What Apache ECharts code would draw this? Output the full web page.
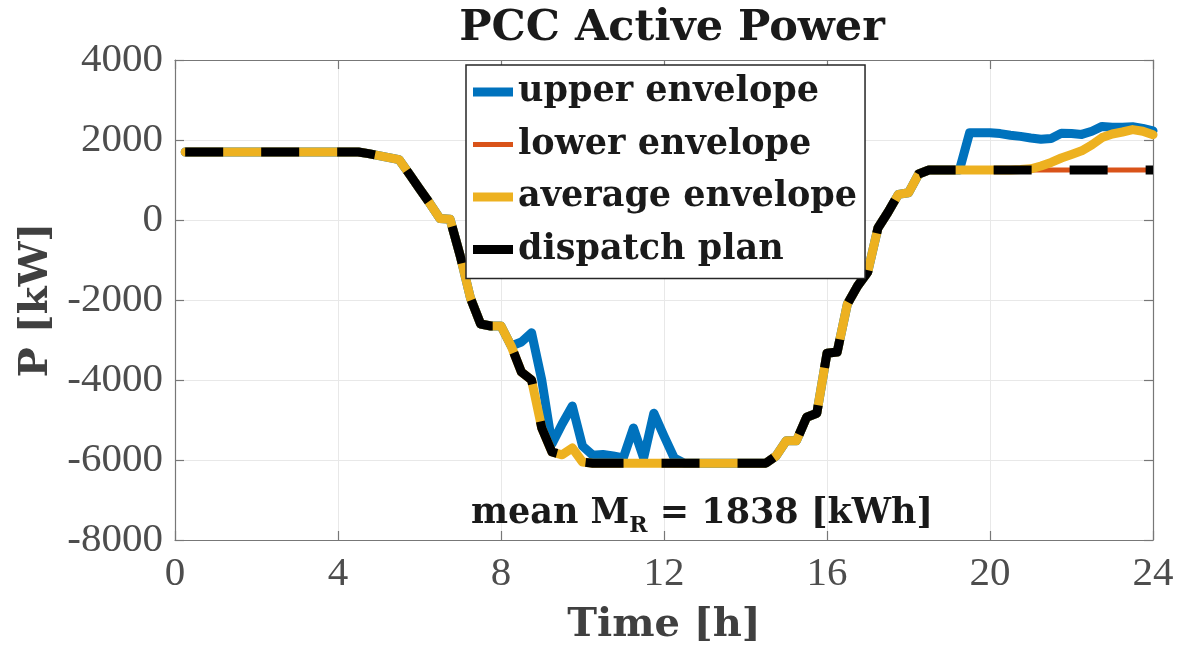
<!DOCTYPE html>
<html>
<head>
<meta charset="utf-8">
<script src="https://cdn.jsdelivr.net/npm/echarts@6/dist/echarts.min.js"></script>
<style>
  html, body { margin: 0; padding: 0; background: #fff; }
  #chart { width: 1178px; height: 657px; }
</style>
</head>
<body>
<div id="chart"></div>
<script>
// time axis, quarter-hour samples [h]
const hours = [
  0.25, 0.5, 0.75, 1, 1.25, 1.5, 1.75, 2, 2.25, 2.5, 2.75, 3, 3.25, 3.5, 3.75, 4,
  4.25, 4.5, 4.75, 5, 5.25, 5.5, 5.75, 6, 6.25, 6.5, 6.75, 7, 7.25, 7.5, 7.75, 8,
  8.25, 8.5, 8.75, 9, 9.25, 9.5, 9.75, 10, 10.25, 10.5, 10.75, 11, 11.25, 11.5, 11.75, 12,
  12.25, 12.5, 12.75, 13, 13.25, 13.5, 13.75, 14, 14.25, 14.5, 14.75, 15, 15.25, 15.5, 15.75, 16,
  16.25, 16.5, 16.75, 17, 17.25, 17.5, 17.75, 18, 18.25, 18.5, 18.75, 19, 19.25, 19.5, 19.75, 20,
  20.25, 20.5, 20.75, 21, 21.25, 21.5, 21.75, 22, 22.25, 22.5, 22.75, 23, 23.25, 23.5, 23.75, 24
];

// power [kW]
const upperEnvelope = [
  1700, 1700, 1700, 1700, 1700, 1700, 1700, 1700, 1700, 1700, 1700, 1700, 1700, 1700, 1700, 1700,
  1700, 1700, 1660, 1610, 1560, 1510, 1150, 780, 420, 40, 20, -900, -1950, -2600, -2650, -2650,
  -3150, -3050, -2820, -4000, -5600, -5100, -4650, -5650, -5880, -5860, -5900, -5950, -5200, -5950, -4830, -5400,
  -5950, -6080, -6080, -6080, -6080, -6080, -6080, -6080, -6080, -6080, -5900, -5520, -5520, -4930, -4830, -3330,
  -3300, -2100, -1650, -1300, -200, 200, 640, 680, 1150, 1250, 1250, 1250, 1250, 2180, 2180, 2180,
  2160, 2120, 2090, 2050, 2020, 2040, 2170, 2160, 2140, 2220, 2340, 2320, 2320, 2330, 2290, 2230
];

const lowerEnvelope = [
  1700, 1700, 1700, 1700, 1700, 1700, 1700, 1700, 1700, 1700, 1700, 1700, 1700, 1700, 1700, 1700,
  1700, 1700, 1660, 1610, 1560, 1510, 1150, 780, 420, 40, 20, -900, -1950, -2600, -2650, -2650,
  -3150, -3800, -4000, -5200, -5800, -5870, -5700, -6050, -6080, -6080, -6080, -6080, -6080, -6080, -6080, -6080,
  -6080, -6080, -6080, -6080, -6080, -6080, -6080, -6080, -6080, -6080, -5900, -5520, -5520, -4930, -4830, -3330,
  -3300, -2100, -1650, -1300, -200, 200, 640, 680, 1150, 1250, 1250, 1250, 1250, 1250, 1250, 1250,
  1250, 1250, 1250, 1250, 1250, 1250, 1250, 1250, 1250, 1250, 1250, 1250, 1250, 1250, 1250, 1250
];

const averageEnvelope = [
  1700, 1700, 1700, 1700, 1700, 1700, 1700, 1700, 1700, 1700, 1700, 1700, 1700, 1700, 1700, 1700,
  1700, 1700, 1660, 1610, 1560, 1510, 1150, 780, 420, 40, 20, -900, -1950, -2600, -2650, -2650,
  -3150, -3800, -4000, -5200, -5800, -5870, -5700, -6050, -6080, -6080, -6080, -6080, -6080, -6080, -6080, -6080,
  -6080, -6080, -6080, -6080, -6080, -6080, -6080, -6080, -6080, -6080, -5900, -5520, -5520, -4930, -4830, -3330,
  -3300, -2100, -1650, -1300, -200, 200, 640, 680, 1150, 1250, 1250, 1250, 1250, 1250, 1250, 1250,
  1250, 1250, 1260, 1280, 1350, 1440, 1550, 1640, 1730, 1880, 2060, 2150, 2200, 2260, 2220, 2130
];

const dispatchPlan = [
  1700, 1700, 1700, 1700, 1700, 1700, 1700, 1700, 1700, 1700, 1700, 1700, 1700, 1700, 1700, 1700,
  1700, 1700, 1660, 1610, 1560, 1510, 1150, 780, 420, 40, 20, -900, -1950, -2600, -2650, -2650,
  -3150, -3800, -4000, -5200, -5800, -5870, -5700, -6050, -6080, -6080, -6080, -6080, -6080, -6080, -6080, -6080,
  -6080, -6080, -6080, -6080, -6080, -6080, -6080, -6080, -6080, -6080, -5900, -5520, -5520, -4930, -4830, -3330,
  -3300, -2100, -1650, -1300, -200, 200, 640, 680, 1150, 1250, 1250, 1250, 1250, 1250, 1250, 1250,
  1250, 1250, 1250, 1250, 1250, 1250, 1250, 1250, 1250, 1250, 1250, 1250, 1250, 1250, 1250, 1250
];

const xTicks = [0, 4, 8, 12, 16, 20, 24];
const yTicks = [-8000, -6000, -4000, -2000, 0, 2000, 4000];

const colors = {
  upper: '#0072BD',
  lower: '#D95319',
  average: '#EDB120',
  dispatch: '#000000'
};

const serif = 'DejaVu Serif';
const tickFont = 'Liberation Serif';

function pairs(vals) {
  return hours.map((h, i) => [h, vals[i]]);
}

// fresh style objects per axis so ECharts doesn't share them
function axisLine() {
  return { show: true, onZero: false, lineStyle: { color: '#777', width: 1.2 } };
}
function tickIn() {
  return { show: true, inside: true, length: 9, lineStyle: { color: '#777', width: 1.2 } };
}

const chart = echarts.init(document.getElementById('chart'), null, { renderer: 'canvas' });

chart.setOption({
  animation: false,
  backgroundColor: '#fff',
  title: [
    {
      text: 'PCC Active Power',
      left: 667,
      top: 2,
      textAlign: 'center',
      textStyle: { fontFamily: serif, fontWeight: 'bold', fontSize: 43, color: '#1a1a1a' }
    },
    {
      text: '{a|mean M}{s|R}{a| = 1838 [kWh]}',
      left: 697,
      top: 482,
      textAlign: 'center',
      textStyle: {
        rich: {
          a: { fontFamily: serif, fontWeight: 'bold', fontSize: 35, color: '#1a1a1a', lineHeight: 44, verticalAlign: 'bottom' },
          s: { fontFamily: serif, fontWeight: 'bold', fontSize: 22, color: '#1a1a1a', lineHeight: 44, verticalAlign: 'bottom', padding: [0, 0, -6, 0] }
        }
      }
    }
  ],
  legend: {
    orient: 'vertical',
    left: 466,
    top: 65,
    padding: [7, 8, 9, 7],
    itemGap: 12.5,
    itemWidth: 40,
    itemHeight: 12,
    backgroundColor: '#fff',
    borderColor: '#262626',
    borderWidth: 1.5,
    borderRadius: 0,
    textStyle: { fontFamily: serif, fontWeight: 'bold', fontSize: 35, color: '#1a1a1a', lineHeight: 40 },
    data: [
      { name: 'upper envelope', icon: 'path://M0,0H40V9H0Z', itemStyle: { color: colors.upper } },
      { name: 'lower envelope', icon: 'path://M0,0H40V5H0Z', itemStyle: { color: colors.lower } },
      { name: 'average envelope', icon: 'path://M0,0H40V9H0Z', itemStyle: { color: colors.average } },
      { name: 'dispatch plan', icon: 'path://M0,0H40V9H0Z', itemStyle: { color: colors.dispatch } }
    ]
  },
  grid: { left: 175, right: 25, top: 60, bottom: 117, containLabel: false },
  xAxis: [
    {
      type: 'value', min: 0, max: 24, interval: 4, position: 'bottom',
      name: 'Time [h]', nameLocation: 'middle', nameGap: 66,
      nameTextStyle: { fontFamily: serif, fontWeight: 'bold', fontSize: 40, color: '#404040' },
      axisLine: axisLine(), axisTick: tickIn(),
      axisLabel: {
        fontFamily: tickFont, fontSize: 41, color: '#4d4d4d', margin: 14,
        formatter: v => (xTicks.indexOf(v) >= 0 ? String(v) : '')
      },
      splitLine: { show: true, lineStyle: { color: '#e8e8e8', width: 1 } }
    },
    {
      type: 'value', min: 0, max: 24, interval: 4, position: 'top',
      axisLine: axisLine(), axisTick: tickIn(), axisLabel: { show: false }, splitLine: { show: false }
    }
  ],
  yAxis: [
    {
      type: 'value', min: -8000, max: 4000, interval: 2000, position: 'left',
      name: 'P [kW]', nameLocation: 'middle', nameGap: 118, nameRotate: 90,
      nameTextStyle: { fontFamily: serif, fontWeight: 'bold', fontSize: 40, color: '#404040' },
      axisLine: axisLine(), axisTick: tickIn(),
      axisLabel: {
        fontFamily: tickFont, fontSize: 41, color: '#4d4d4d', margin: 12,
        formatter: v => (yTicks.indexOf(v) >= 0 ? String(v) : '')
      },
      splitLine: { show: true, lineStyle: { color: '#e8e8e8', width: 1 } }
    },
    {
      type: 'value', min: -8000, max: 4000, interval: 2000, position: 'right',
      axisLine: axisLine(), axisTick: tickIn(), axisLabel: { show: false }, splitLine: { show: false }
    }
  ],
  series: [
    {
      name: 'upper envelope', type: 'line', showSymbol: false, symbol: 'none',
      data: pairs(upperEnvelope),
      lineStyle: { color: colors.upper, width: 9, join: 'round', cap: 'round' },
      itemStyle: { color: colors.upper }
    },
    {
      name: 'lower envelope', type: 'line', showSymbol: false, symbol: 'none',
      data: pairs(lowerEnvelope),
      lineStyle: { color: colors.lower, width: 5, join: 'round' },
      itemStyle: { color: colors.lower }
    },
    {
      name: 'average envelope', type: 'line', showSymbol: false, symbol: 'none',
      data: pairs(averageEnvelope),
      lineStyle: { color: colors.average, width: 9, join: 'round', cap: 'round' },
      itemStyle: { color: colors.average }
    },
    {
      name: 'dispatch plan', type: 'line', showSymbol: false, symbol: 'none',
      data: pairs(dispatchPlan),
      lineStyle: { color: colors.dispatch, width: 9, type: [38, 38], join: 'round', cap: 'butt' },
      itemStyle: { color: colors.dispatch }
    }
  ]
});
</script>
</body>
</html>
